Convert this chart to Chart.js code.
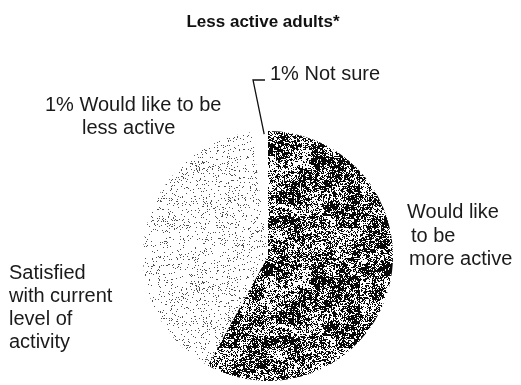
<!DOCTYPE html>
<html>
<head>
<meta charset="utf-8">
<script src="https://cdn.jsdelivr.net/npm/chart.js@4.4.1/dist/chart.umd.min.js"></script>
<style>
  html, body { margin: 0; padding: 0; background: #fff; }
  #wrap { width: 521px; height: 385px; position: relative; }
</style>
</head>
<body>
<div id="wrap"><canvas id="myChart" width="521" height="385"></canvas></div>
<script>
const categories = ["Would like to be more active", "Satisfied with current level of activity", "Would like to be less active", "Not sure"];
const shares = [58, 40, 1, 1];

// stippled fill, like a halftone print: fine dots modulated by two sizes of clumps
function stipple(density, clump, tone) {
  const size = 120;
  const c = document.createElement("canvas");
  c.width = size; c.height = size;
  const g = c.getContext("2d");
  const img = g.createImageData(size, size);
  const hash = (x, y) => {
    let h = (x * 374761393 + y * 668265263) | 0;
    h = Math.imul(h ^ (h >>> 13), 1274126177);
    return ((h ^ (h >>> 16)) >>> 0) / 4294967295;
  };
  for (let y = 0; y < size; y++) {
    for (let x = 0; x < size; x++) {
      const big = hash(Math.floor(x / 12), Math.floor(y / 12) + 777);
      const small = hash(Math.floor(x / 3), Math.floor(y / 3) + 999);
      const p = density + clump * (0.6 * (big - 0.5) + 0.7 * (small - 0.5));
      const dot = hash(x, y) < p;
      const i = (y * size + x) * 4;
      const v = dot ? tone : 255;
      img.data[i] = v; img.data[i + 1] = v; img.data[i + 2] = v; img.data[i + 3] = 255;
    }
  }
  g.putImageData(img, 0, 0);
  return g.createPattern(c, "repeat");
}

const ctx = document.getElementById("myChart").getContext("2d");
const darkFill = stipple(0.55, 0.8, 8);
const lightFill = stipple(0.08, 0.12, 80);

const labelFont = '20px "Liberation Sans", Arial, sans-serif';
const labelBlocks = [
  { x: 270, y: 80, lines: ["1% Not sure"] },
  { x: 45, y: 111, lines: ["1% Would like to be"] },
  { x: 82, y: 134, lines: ["less active"] },
  { x: 407, y: 218, lines: ["Would like"] },
  { x: 411, y: 242, lines: ["to be"] },
  { x: 409, y: 265, lines: ["more active"] },
  { x: 9, y: 279, lines: ["Satisfied", "with current", "level of", "activity"] }
];

const annotations = {
  id: "annotations",
  afterDraw(chart) {
    const c = chart.ctx;
    c.save();
    c.fillStyle = "#111";
    c.textBaseline = "alphabetic";
    c.font = 'bold 17px "Liberation Sans", Arial, sans-serif';
    c.textAlign = "center";
    c.fillText("Less active adults*", 263, 27);

    c.fillStyle = "#1a1a1a";
    c.font = labelFont;
    c.textAlign = "left";
    labelBlocks.forEach(b => {
      b.lines.forEach((t, i) => c.fillText(t, b.x, b.y + i * 23));
    });

    // leader for the "Not sure" slice
    const arc = chart.getDatasetMeta(0).data[3];
    const mid = (arc.startAngle + arc.endAngle) / 2;
    const ex = arc.x + Math.cos(mid) * (arc.outerRadius - 3);
    const ey = arc.y + Math.sin(mid) * (arc.outerRadius - 3);
    c.strokeStyle = "#111";
    c.lineWidth = 1.3;
    c.beginPath();
    c.moveTo(265, 80);
    c.lineTo(253, 80);
    c.lineTo(ex, ey);
    c.stroke();
    c.restore();
  }
};

new Chart(ctx, {
  type: "pie",
  data: {
    labels: categories,
    datasets: [{
      data: shares,
      backgroundColor: [darkFill, lightFill, "#fff", "#fff"],
      borderWidth: 0
    }]
  },
  options: {
    responsive: false,
    animation: false,
    layout: { padding: { left: 143, right: 128, top: 131, bottom: 4 } },
    plugins: {
      legend: { display: false },
      tooltip: { enabled: false }
    }
  },
  plugins: [annotations]
});
</script>
</body>
</html>
